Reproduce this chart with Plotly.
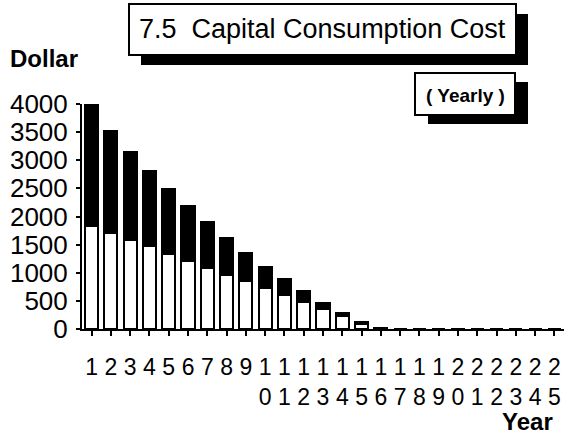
import plotly.graph_objects as go

# Yearly capital consumption cost, split into its two components (dollars)
years = list(range(1, 26))
principal = [1840, 1715, 1590, 1470, 1340, 1210, 1085, 965, 845, 730, 600, 475,
             350, 225, 95, 15, 0, 0, 0, 0, 0, 0, 0, 0, 0]
interest = [2140, 1805, 1555, 1340, 1150, 980, 810, 650, 505, 370, 285, 195,
            115, 60, 30, 5, 0, 0, 0, 0, 0, 0, 0, 0, 0]
y_ticks = [0, 500, 1000, 1500, 2000, 2500, 3000, 3500, 4000]

# two-digit years are written with one digit per line
year_labels = ["<br>".join(str(y)) for y in years]

W, H = 564, 436
L, R, T, B = 82, 0, 104, 107
PW, PH = W - L - R, H - T - B


def px(x):
    return (x - L) / PW


def py(y):
    return (H - B - y) / PH


FONT = "Liberation Sans, Arial, Helvetica, sans-serif"

fig = go.Figure()
fig.add_trace(go.Bar(x=years, y=principal, name="Principal",
                     marker=dict(color="white", line=dict(color="black", width=2))))
fig.add_trace(go.Bar(x=years, y=interest, name="Interest",
                     marker=dict(color="black", line=dict(color="black", width=2))))

shapes = []


def boxed(x0, y0, x1, y1, dx, dy):
    # drop shadow, then the white framed box on top
    shapes.append(dict(type="rect", xref="paper", yref="paper",
                       x0=px(x0 + dx), x1=px(x1 + dx), y0=py(y1 + dy), y1=py(y0 + dy),
                       fillcolor="black", line=dict(width=0), layer="above"))
    shapes.append(dict(type="rect", xref="paper", yref="paper",
                       x0=px(x0), x1=px(x1), y0=py(y1), y1=py(y0),
                       fillcolor="white", line=dict(color="black", width=2), layer="above"))


boxed(129, 4, 516, 55, 12, 10)
boxed(415, 73, 515, 115, 13, 9)

annotations = [
    dict(text="7.5  Capital Consumption Cost", x=px(322), y=py(29),
         font=dict(size=27, family=FONT, color="black")),
    dict(text="<b>( Yearly )</b>", x=px(465), y=py(95),
         font=dict(size=19, family=FONT, color="black")),
    dict(text="<b>Dollar</b>", x=px(44), y=py(58),
         font=dict(size=24, family=FONT, color="black")),
    dict(text="<b>Year</b>", x=px(527), y=py(421),
         font=dict(size=24, family=FONT, color="black")),
]
for a in annotations:
    a.update(xref="paper", yref="paper", showarrow=False,
             xanchor="center", yanchor="middle")

fig.update_layout(
    width=W, height=H,
    margin=dict(l=L, r=R, t=T, b=B, pad=0),
    barmode="stack", bargap=0.32,
    showlegend=False,
    plot_bgcolor="white", paper_bgcolor="white",
    shapes=shapes, annotations=annotations,
    font=dict(family=FONT, color="black"),
)
fig.update_xaxes(
    range=[0.5, 25.5], tickmode="array", tickvals=years, ticktext=year_labels,
    tickson="boundaries", ticks="outside", ticklen=5, tickwidth=2, tickcolor="black",
    showline=True, linecolor="black", linewidth=2, showgrid=False, zeroline=False,
    tickfont=dict(size=23, family=FONT, color="black"), ticklabelstandoff=11,
    tickangle=0,
)
fig.update_yaxes(
    range=[0, 4000], tickmode="array", tickvals=y_ticks,
    ticks="outside", ticklen=4, tickwidth=2, tickcolor="black",
    showline=True, linecolor="black", linewidth=2, showgrid=False, zeroline=False,
    tickfont=dict(size=26, family=FONT, color="black"), ticklabelstandoff=3,
)

fig.write_html("out.html")
